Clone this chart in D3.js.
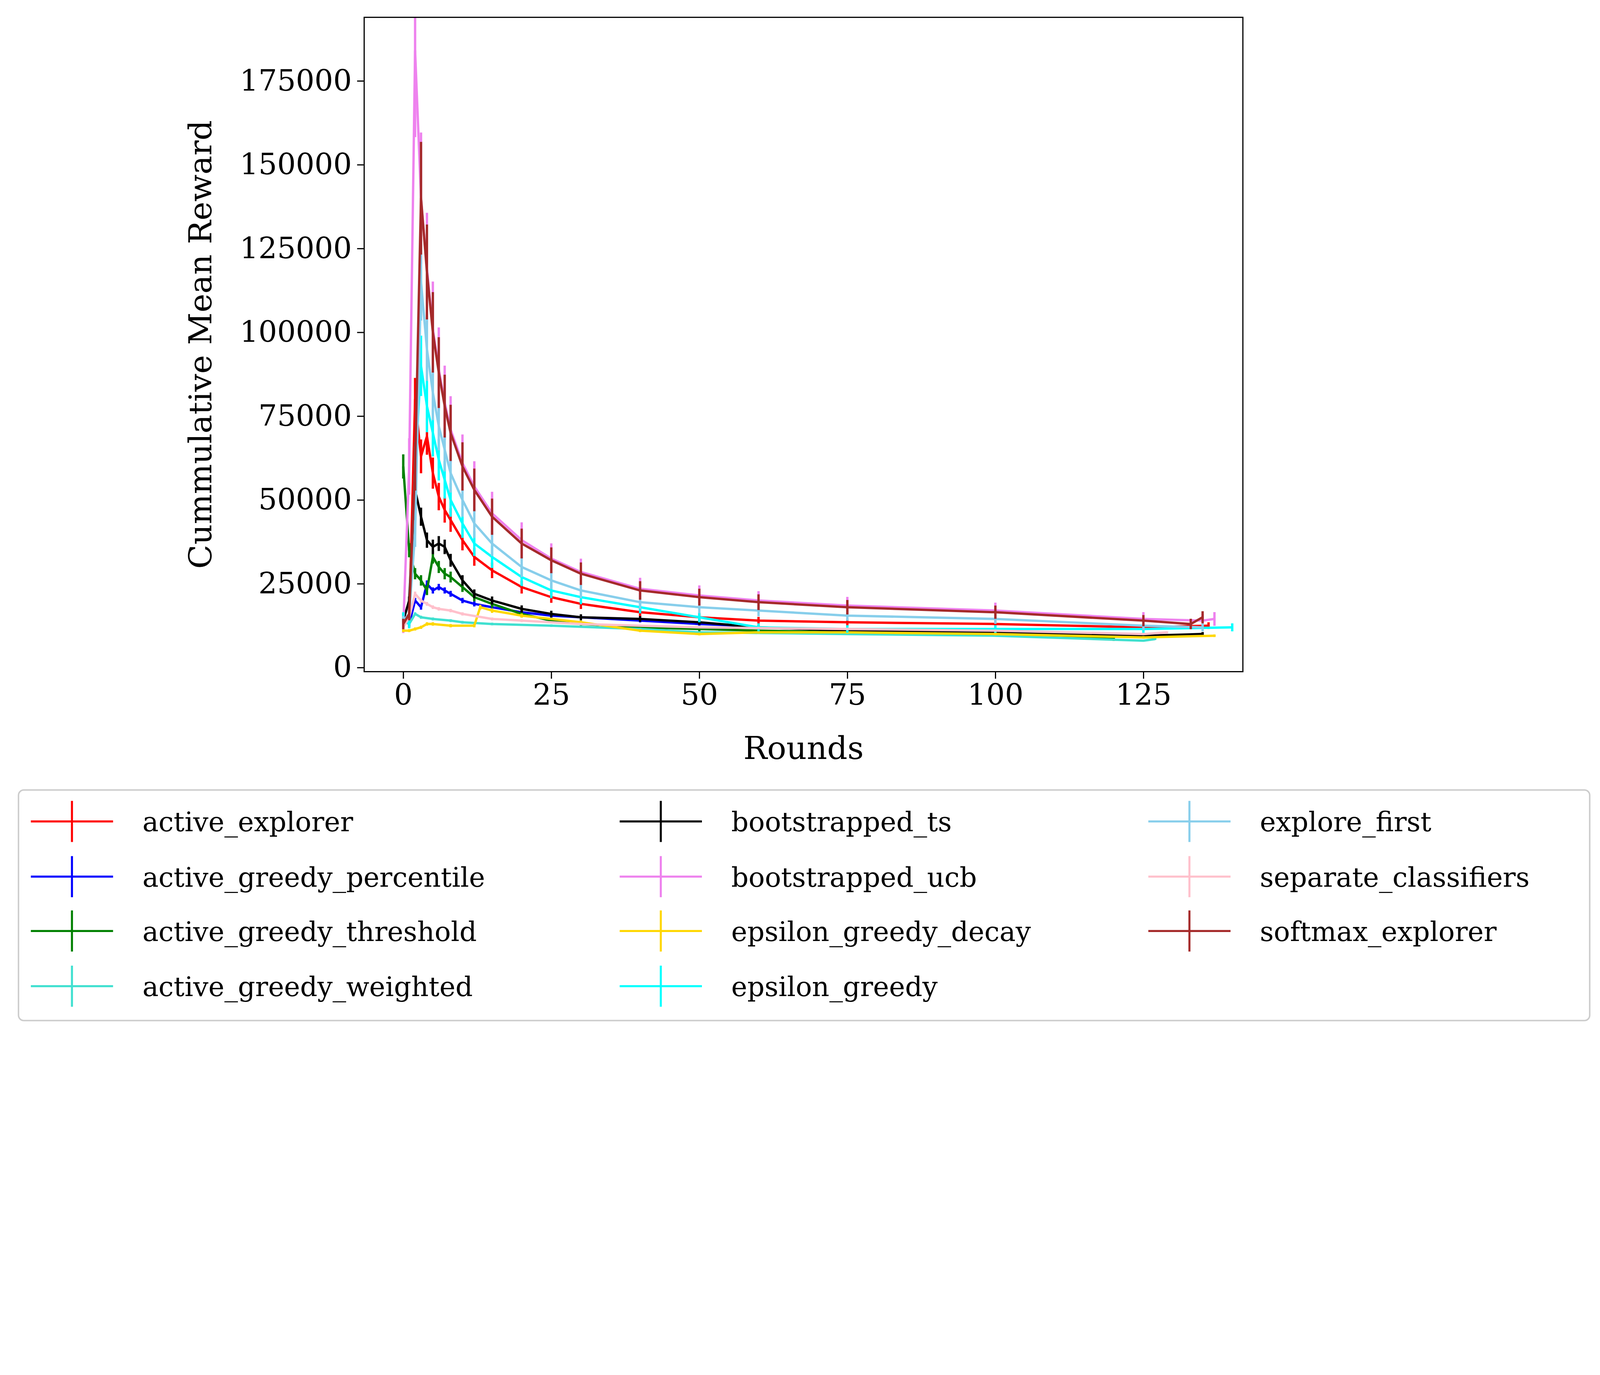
<!DOCTYPE html>
<html>
<head>
<meta charset="utf-8">
<script src="https://cdn.jsdelivr.net/npm/d3@7"></script>
<style>
  html, body { margin: 0; padding: 0; background: #fff; overflow: hidden; }
  svg { display: block; }
  text { font-family: "DejaVu Serif", "Liberation Serif", serif; }
</style>
</head>
<body>
<div id="chart"></div>
<script>
const W = 5448, H = 3520;
const M = { left: 1240, right: W - 4232, top: 59, bottom: H - 2287 };

// rounds sampled for each series (values in units of 1000 reward)
const baseRounds = [0, 1, 2, 3, 4, 5, 6, 7, 8, 10, 12, 15, 20, 25, 30, 40, 50, 60, 75, 100, 125];

const names = ["active_explorer", "active_greedy_percentile", "active_greedy_threshold", "active_greedy_weighted",
  "bootstrapped_ts", "bootstrapped_ucb", "epsilon_greedy_decay", "epsilon_greedy",
  "explore_first", "separate_classifiers", "softmax_explorer"];
const colors = ["#ff0000", "#0000ff", "#008000", "#40e0d0", "#000000", "#ee82ee", "#ffd700", "#00ffff",
  "#87ceeb", "#ffc0cb", "#a52a2a"];

const activeExplorer = { r: baseRounds.concat([136]),
  v: [15, 13, 80, 63, 69, 58, 51, 47, 44, 38, 33, 29, 24, 21, 19, 16.5, 15, 14, 13.5, 13, 12, 12.5] };
const activeGreedyPercentile = { r: [0, 1, 2, 3, 4, 5, 6, 7, 8, 10, 12, 15, 20, 25, 30, 40, 50, 57],
  v: [14, 13, 20, 18, 25, 23, 24, 23, 22, 20, 19, 18, 16.5, 15.5, 15, 14, 13, 12.5] };
const activeGreedyThreshold = { r: [0, 1, 2, 3, 4, 5, 6, 7, 8, 10, 12, 15, 20, 25, 30, 40, 50, 60, 75, 100, 120],
  v: [60, 35, 28, 26, 23, 33, 30, 28, 27, 24, 21, 19, 16, 14, 13, 12, 11.5, 11, 10.5, 10, 8.5] };
const activeGreedyWeighted = { r: [0, 1, 2, 3, 5, 8, 10, 15, 25, 40, 50, 75, 100, 125, 127],
  v: [14, 13, 16, 15, 14.5, 14, 13.5, 13, 12.5, 11.5, 10.5, 10, 9.5, 8, 8.5] };
const bootstrappedTs = { r: baseRounds.concat([135]),
  v: [14, 20, 53, 45, 38, 36, 37, 36, 32, 26, 22, 20, 17.5, 16, 15, 14.5, 13.5, 12, 11, 10.5, 9.5, 10] };
const bootstrappedUcb = { r: baseRounds.concat([135, 137]),
  v: [12, 60, 184, 140, 119, 101, 89, 79, 71, 61, 54, 46, 38, 32.5, 28.5, 23.5, 21.5, 20, 18.5, 17, 14.5, 14, 14.5] };
const epsilonGreedyDecay = { r: [0, 1, 2, 3, 4, 5, 8, 12, 13, 15, 20, 30, 40, 50, 60, 75, 100, 125, 137],
  v: [11, 11, 11.5, 12, 13, 13, 12.5, 12.5, 18, 17, 15.5, 13.5, 11, 10, 10.5, 10.5, 10, 9, 9.5] };
const epsilonGreedy = { r: baseRounds.concat([140]),
  v: [15, 13, 60, 90, 78, 70, 62, 56, 50, 43, 37, 33, 27, 23, 21, 18, 15, 12, 11.5, 11.5, 11.5, 12] };
const exploreFirst = { r: baseRounds.concat([135]),
  v: [14, 16, 40, 115, 95, 82, 72, 65, 58, 50, 43, 37, 30, 26, 23, 19.5, 18, 17, 15.5, 14.5, 12.5, 12] };
const separateClassifiers = { r: [0, 1, 2, 3, 4, 5, 6, 8, 10, 15, 20, 30, 50, 75, 100, 125, 129],
  v: [12, 15, 22, 20, 19, 18, 17.5, 17, 16, 14.5, 14, 13, 12, 11.5, 11, 10, 10.5] };
const softmaxExplorer = { r: baseRounds.concat([133, 135]),
  v: [13, 16, 60, 140, 118, 100, 88, 78, 70, 60, 53, 45, 37, 32, 28, 23, 21, 19.5, 18, 16.5, 14, 13, 15] };

const seriesData = [activeExplorer, activeGreedyPercentile, activeGreedyThreshold, activeGreedyWeighted,
  bootstrappedTs, bootstrappedUcb, epsilonGreedyDecay, epsilonGreedy, exploreFirst, separateClassifiers, softmaxExplorer];
// relative error bar half-width per series
const errFrac = [0.08, 0.04, 0.06, 0.03, 0.06, 0.14, 0.04, 0.1, 0.1, 0.03, 0.12];

const yTicks = [0, 25000, 50000, 75000, 100000, 125000, 150000, 175000];
const xTicks = [0, 25, 50, 75, 100, 125];

// fit the whole drawing into the window whatever its pixel size
const svg = d3.select("#chart").append("svg")
  .attr("viewBox", `0 0 ${W} ${H}`)
  .attr("preserveAspectRatio", "xMinYMin meet")
  .style("width", "100vw").style("height", "100vh");

const x = d3.scaleLinear().domain([-6.6, 141.8]).range([M.left, W - M.right]);
const y = d3.scaleLinear().domain([-1224, 193970]).range([H - M.bottom, M.top]);

const plot = svg.append("g");
plot.append("clipPath").attr("id", "clip").append("rect")
  .attr("x", M.left).attr("y", M.top).attr("width", W - M.left - M.right).attr("height", H - M.top - M.bottom);

const line = d3.line().x(d => x(d.r)).y(d => y(d.v));
const g = plot.append("g").attr("clip-path", "url(#clip)");

seriesData.forEach((s, i) => {
  const pts = s.r.map((r, j) => ({ r: r, v: s.v[j] * 1000 }));
  const sg = g.append("g");
  sg.selectAll("line").data(pts).enter().append("line")
    .attr("x1", d => x(d.r)).attr("x2", d => x(d.r))
    .attr("y1", d => y(d.v * (1 - errFrac[i]))).attr("y2", d => y(d.v * (1 + errFrac[i])))
    .attr("stroke", colors[i]).attr("stroke-width", 8);
  sg.append("path").datum(pts).attr("d", line)
    .attr("fill", "none").attr("stroke", colors[i]).attr("stroke-width", 8).attr("stroke-linejoin", "round");
});

svg.append("rect").attr("x", M.left).attr("y", M.top)
  .attr("width", W - M.left - M.right).attr("height", H - M.top - M.bottom)
  .attr("fill", "none").attr("stroke", "#000").attr("stroke-width", 4);

const xAxis = svg.append("g").attr("transform", `translate(0,${H - M.bottom})`)
  .call(d3.axisBottom(x).tickValues(xTicks).tickSize(24).tickPadding(18).tickFormat(d3.format("d")));
const yAxis = svg.append("g").attr("transform", `translate(${M.left},0)`)
  .call(d3.axisLeft(y).tickValues(yTicks).tickSize(24).tickPadding(18).tickFormat(d3.format("d")));
[xAxis, yAxis].forEach(a => {
  a.select(".domain").remove();
  a.selectAll("line").attr("stroke-width", 4);
  a.selectAll("text").attr("font-size", 100).attr("font-family", "DejaVu Serif, serif");
});

svg.append("text").attr("x", (M.left + W - M.right) / 2).attr("y", 2585)
  .attr("text-anchor", "middle").attr("font-size", 108).text("Rounds");
svg.append("text").attr("transform", `translate(720,${(M.top + H - M.bottom) / 2}) rotate(-90)`)
  .attr("text-anchor", "middle").attr("font-size", 108).text("Cummulative Mean Reward");

// legend
const leg = svg.append("g");
leg.append("rect").attr("x", 63).attr("y", 2690).attr("width", 5350).attr("height", 785)
  .attr("rx", 18).attr("fill", "#fff").attr("stroke", "#ccc").attr("stroke-width", 5);
const colX = [105, 2110, 3910];
const rowY = [2797, 2985, 3170, 3358];
names.forEach((n, i) => {
  const c = Math.floor(i / 4), r = i % 4;
  const lx = colX[c], ly = rowY[r];
  leg.append("line").attr("x1", lx).attr("x2", lx + 280).attr("y1", ly).attr("y2", ly)
    .attr("stroke", colors[i]).attr("stroke-width", 7);
  leg.append("line").attr("x1", lx + 140).attr("x2", lx + 140).attr("y1", ly - 70).attr("y2", ly + 70)
    .attr("stroke", colors[i]).attr("stroke-width", 7);
  leg.append("text").attr("x", lx + 380).attr("y", ly + 34).attr("font-size", 92).text(n);
});
</script>
</body>
</html>
